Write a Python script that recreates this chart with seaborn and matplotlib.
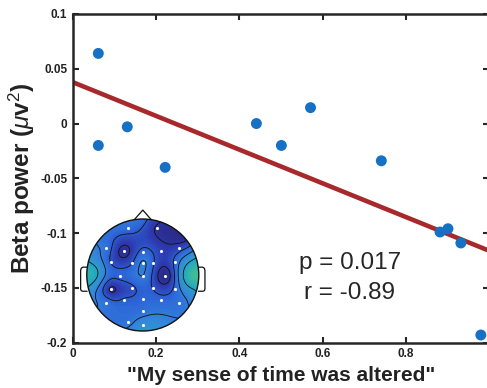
import numpy as np
import pandas as pd
import seaborn as sns
import matplotlib.pyplot as plt
from matplotlib.colors import LinearSegmentedColormap
from matplotlib.patches import Circle

# behavioural rating vs beta power (one point per participant)
rating = [0.0615, 0.0615, 0.131, 0.222, 0.441, 0.501, 0.571, 0.741, 0.882, 0.901, 0.932, 0.980]
beta = [0.064, -0.020, -0.003, -0.040, 0.000, -0.020, 0.0145, -0.034, -0.099, -0.096, -0.109, -0.193]

xticks = [0, 0.2, 0.4, 0.6, 0.8]
xtick_labels = ["0", "0.2", "0.4", "0.6", "0.8"]
yticks = [-0.2, -0.15, -0.1, -0.05, 0, 0.05, 0.1]
ytick_labels = ["-0.2", "-0.15", "-0.1", "-0.05", "0", "0.05", "0.1"]

# electrode positions (unit head radius) and relative values for the topomap
elec_x = [-0.256, 0.25,
          -0.661, -0.333, 0.0, 0.321, 0.655,
          -0.571, -0.19, 0.0, 0.19, 0.583,
          -0.405, 0.0, 0.405,
          -0.571, -0.19, 0.19, 0.583,
          -0.661, -0.333, 0.0, 0.321, 0.655,
          0.0,
          -0.256, 0.0]
elec_y = [0.833, 0.833,
          0.488, 0.429, 0.405, 0.429, 0.488,
          0.238, 0.220, 0.220, 0.220, 0.226,
          -0.012, -0.012, -0.012,
          -0.256, -0.238, -0.232, -0.256,
          -0.506, -0.446, -0.435, -0.446, -0.506,
          -0.643,
          -0.839, -0.893]
elec_v = [0.32, 0.08,
          0.36, 0.05, 0.30, 0.17, 0.18,
          0.24, 0.24, 0.42, 0.26, 0.30,
          0.30, 0.40, 0.00,
          0.08, 0.22, 0.24, 0.30,
          0.36, 0.27, 0.30, 0.30, 0.36,
          0.34,
          0.36, 0.50]
# values read near the rim (no electrode drawn there)
rim_x = [-0.9, -0.92, -0.92, 0.88, 0.9, 0.9, -0.75, 0.72, -0.72, 0.72, 0.0, 0.45]
rim_y = [0.02, 0.3, -0.28, -0.02, 0.3, -0.3, 0.62, 0.66, -0.68, -0.68, 0.98, 0.86]
rim_v = [0.78, 0.52, 0.50, 0.95, 0.58, 0.55, 0.36, 0.04, 0.36, 0.38, 0.30, 0.06]

topo_pos = [0.0, 0.15, 0.3, 0.45, 0.7, 1.0]
topo_colors = ["#2A2882", "#2D3AAE", "#2D66D9", "#3486DA", "#22A8C4", "#40BC96"]

fig = plt.figure(figsize=(4.87, 3.88), dpi=100)
sns.set_style("ticks")
plt.rcParams["font.family"] = ["Liberation Sans", "DejaVu Sans"]
plt.rcParams["mathtext.fontset"] = "custom"
plt.rcParams["mathtext.it"] = "Liberation Sans:italic"
plt.rcParams["mathtext.rm"] = "Liberation Sans"

ax = fig.add_axes([0.1493, 0.1168, 0.8552, 0.8472])
df = pd.DataFrame({"rating": rating, "beta": beta})
ax.set_xlim(0, 1)
ax.set_ylim(-0.2, 0.1)
sns.regplot(data=df, x="rating", y="beta", ax=ax, scatter=False, ci=None,
            truncate=False, color="#A8292B", line_kws={"lw": 3.3})
sns.scatterplot(data=df, x="rating", y="beta", ax=ax, color="#1670C4",
                s=62, edgecolor="none", zorder=3)
ax.set_xlim(0, 1)
ax.set_ylim(-0.2, 0.1)
ax.set_xticks(xticks)
ax.set_xticklabels(xtick_labels)
ax.set_yticks(yticks)
ax.set_yticklabels(ytick_labels)
for s in ax.spines.values():
    s.set_linewidth(1.8)
    s.set_visible(True)
ax.tick_params(direction="in", length=4, width=1.5, top=True, right=True,
               labelsize=8.5, pad=4)
for lab in ax.get_xticklabels() + ax.get_yticklabels():
    lab.set_fontweight("bold")
    lab.set_color("#222222")
ax.set_xlabel('"My sense of time was altered"', fontsize=15, fontweight="bold",
              color="#222222", labelpad=4)
ax.set_ylabel(r"Beta power ($\mu$v$^2$)", fontsize=17.5, fontweight="bold",
              color="#222222", labelpad=2)

ax.text(0.665, -0.127, "p = 0.017", fontsize=17.5, ha="center", va="center")
ax.text(0.665, -0.155, "r = -0.89", fontsize=17.5, ha="center", va="center")

# topographic inset
hx = fig.add_axes([0.1552, 0.118, 0.276, 0.3464])
hx.set_aspect("equal")
hx.set_xlim(-0.6, 0.6)
hx.set_ylim(-0.6, 0.6)
hx.axis("off")

px = np.array(elec_x + rim_x) * 0.5
py = np.array(elec_y + rim_y) * 0.5
pv = np.array(elec_v + rim_v)


def green(r):
    out = np.zeros_like(r)
    nz = r > 0
    out[nz] = r[nz] ** 2 * (np.log(r[nz]) - 1)
    return out


d = np.hypot(px[:, None] - px[None, :], py[:, None] - py[None, :])
w = np.linalg.solve(green(d), pv)
g = np.linspace(-0.52, 0.52, 220)
gx, gy = np.meshgrid(g, g)
dg = np.hypot(gx[..., None] - px, gy[..., None] - py)
gz = (green(dg) * w).sum(axis=-1)
gz = np.ma.masked_where(np.hypot(gx, gy) > 0.52, gz)

cmap = LinearSegmentedColormap.from_list("topo", list(zip(topo_pos, topo_colors)))
clip = Circle((0, 0), 0.5, transform=hx.transData, fc="none")
cf = hx.contourf(gx, gy, gz, levels=np.linspace(-0.3, 1.2, 80), cmap=cmap,
                 vmin=0, vmax=1, extend="both")
cf.set_clip_path(clip)
cl = hx.contour(gx, gy, gz, levels=[0.1, 0.25, 0.4, 0.62],
                colors="#111111", linewidths=0.6)
cl.set_clip_path(clip)

hx.add_patch(Circle((0, 0), 0.5, fc="none", ec="#111111", lw=1.0))
nose_x = [-0.075, 0.0, 0.075]
nose_y = [0.495, 0.58, 0.495]
hx.plot(nose_x, nose_y, color="#111111", lw=0.9)
ear_x = [0.499, 0.535, 0.55, 0.555, 0.555, 0.55, 0.535, 0.497]
ear_y = [0.07, 0.07, 0.06, 0.04, -0.125, -0.14, -0.145, -0.145]
hx.plot(ear_x, ear_y, color="#111111", lw=0.9)
hx.plot([-v for v in ear_x], ear_y, color="#111111", lw=0.9)
hx.scatter(np.array(elec_x) * 0.5, np.array(elec_y) * 0.5, s=5, color="white",
           zorder=4, linewidths=0)

fig.savefig("out.png", dpi=100)
